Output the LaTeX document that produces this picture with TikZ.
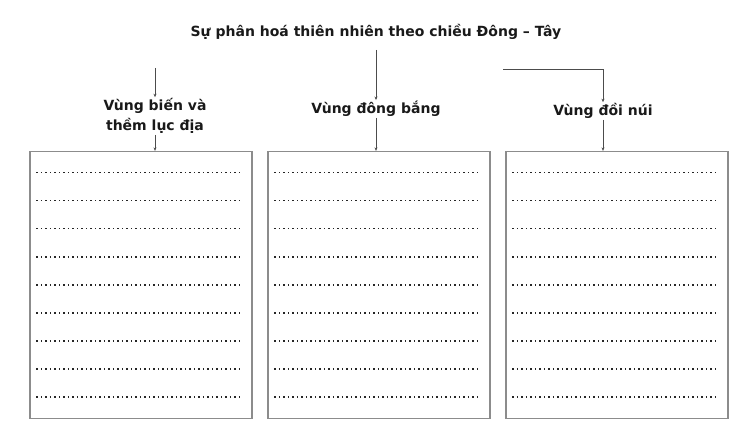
\documentclass[tikz,border=0pt]{standalone}
\usepackage{fontspec}
\setmainfont{DejaVu Sans}
\usepackage{xcolor}
\usepackage{tikz}
\usetikzlibrary{arrows.meta}

\tikzset{
    heading/.style={font=\bfseries\fontsize{14}{20}\selectfont, text=black!90, inner sep=1pt, align=center},
    answerbox/.style={draw=black!45, line width=1.3pt, rectangle, minimum width=222pt, minimum height=267pt, inner sep=0pt},
    dotrow/.style={black!85, line width=1.3pt, dash pattern=on 1.3pt off 3.2pt},
    link/.style={black!70, line width=0.6pt, -{Stealth[length=3.5pt,width=3pt]}}
}

\begin{document}
\begin{tikzpicture}[x=1pt, y=-1pt]
    \useasboundingbox (0,0) rectangle (753,425);

    \node[heading] (title) at (376,32) {Sự phân hoá thiên nhiên theo chiều Đông -- Tây};

    \node[heading] (bien) at (155,116) {Vùng biến và\\thềm lục địa};
    \node[heading] (dongbang) at (376,109) {Vùng đông bắng};
    \node[heading] (doinui) at (603,111) {Vùng đồi núi};

    \node[answerbox] (boxbien) at (141,285) {};
    \node[answerbox] (boxdongbang) at (379,285) {};
    \node[answerbox] (boxdoinui) at (617,285) {};

    % rows to fill in
    \foreach \b in {boxbien, boxdongbang, boxdoinui}
        \foreach \i in {0,...,8}
            \draw[dotrow] ([xshift=7pt, yshift=-22pt-\i*28pt]\b.north west) -- ([xshift=-10pt, yshift=-22pt-\i*28pt]\b.north east);

    \coordinate (startbien) at (155,68);
    \coordinate (startdong) at (376,50);
    \coordinate (startdoi) at (503,69);

    \draw[link] (startbien) -- (bien);
    \draw[link] (startdong) -- (dongbang);
    \draw[link] (startdoi) -| (doinui);

    \draw[link] (bien) -- (boxbien.north -| bien);
    \draw[link] (dongbang) -- (boxdongbang.north -| dongbang);
    \draw[link] (doinui) -- (boxdoinui.north -| doinui);
\end{tikzpicture}
\end{document}
